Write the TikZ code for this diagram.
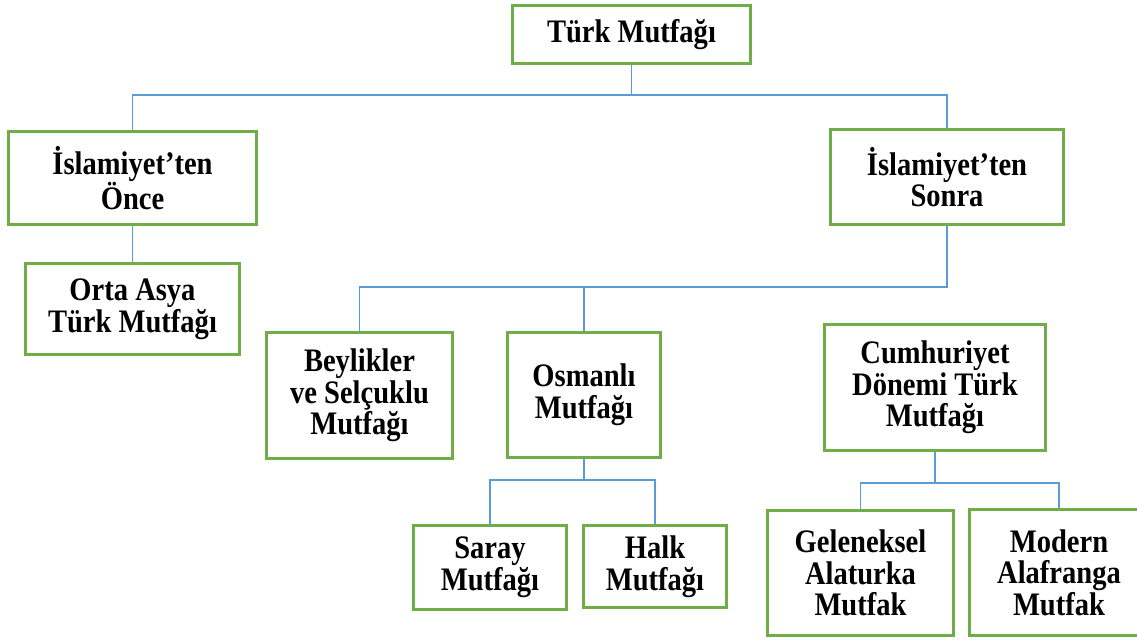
\documentclass[tikz,border=0pt]{standalone}
\usepackage{fontspec}
\setmainfont{Liberation Serif}[FakeStretch=0.87]
\usetikzlibrary{backgrounds}
\definecolor{kutuyesil}{HTML}{70AD47}
\definecolor{bagmavi}{HTML}{5B9BD5}
\def\px{0.03cm}
\tikzset{
	kutu/.style={draw=kutuyesil, line width=3*\px, fill=white, align=center, inner sep=0pt,
		font=\fontsize{28}{27}\selectfont\bfseries},
	bag/.style={draw=bagmavi, line width=1pt},
}

\begin{document}
\begin{tikzpicture}[x=\px, y=-\px]
			%%%%% START %%%%%
			
			\useasboundingbox (0, 0) rectangle (1137, 641);
			\clip (0, 0) rectangle (1137, 641);
			
			\node[kutu, minimum width=238*\px, minimum height=58*\px] (turk) at (631.5, 34.5) {Türk Mutfağı};
			
			\node[kutu, minimum width=248*\px, minimum height=93*\px] (once) at (132.5, 178) {İslamiyet’ten\\Önce};
			\node[kutu, minimum width=233*\px, minimum height=95*\px] (sonra) at (947, 177) {İslamiyet’ten\\Sonra};
			
			\node[kutu, minimum width=214*\px, minimum height=91*\px] (asya) at (132.5, 309) {Orta Asya\\Türk Mutfağı};
			
			\node[kutu, minimum width=186*\px, minimum height=126*\px] (beylik) at (359.5, 395.5) {Beylikler\\ve Selçuklu\\Mutfağı};
			\node[kutu, minimum width=153*\px, minimum height=125*\px] (osmanli) at (584, 395) {Osmanlı\\Mutfağı};
			\node[kutu, minimum width=221*\px, minimum height=126*\px] (cumhur) at (935, 387.5) {Cumhuriyet\\Dönemi Türk\\Mutfağı};
			
			\node[kutu, minimum width=153*\px, minimum height=84*\px] (saray) at (490, 567.5) {Saray\\Mutfağı};
			\node[kutu, minimum width=143*\px, minimum height=82*\px] (halk) at (655, 566.5) {Halk\\Mutfağı};
			
			\node[kutu, minimum width=186*\px, minimum height=125*\px] (gelenek) at (860.5, 573) {Geleneksel\\Alaturka\\Mutfak};
			\node[kutu, minimum width=179*\px, minimum height=126*\px] (modern) at (1059, 572.5) {Modern\\Alafranga\\Mutfak};
			
			\coordinate (bar1) at (0, 95);
			\coordinate (bar2) at (0, 287);
			\coordinate (bar3) at (0, 480);
			\coordinate (bar4) at (0, 483);
			
			\begin{scope}[on background layer]
				\draw[bag] (turk.south) -- (turk.south |- bar1);
				\draw[bag] (once.north) -- (once.north |- bar1) -- (sonra.north |- bar1) -- (sonra.north);
				\draw[bag] (once.south) -- (asya.north);
				
				\draw[bag] (sonra.south) -- (sonra.south |- bar2) -- (beylik.north |- bar2) -- (beylik.north);
				\draw[bag] (osmanli.north) -- (osmanli.north |- bar2);
				
				\draw[bag] (osmanli.south) -- (osmanli.south |- bar3);
				\draw[bag] (saray.north) -- (saray.north |- bar3) -- (halk.north |- bar3) -- (halk.north);
				
				\draw[bag] (cumhur.south) -- (cumhur.south |- bar4);
				\draw[bag] (gelenek.north) -- (gelenek.north |- bar4) -- (modern.north |- bar4) -- (modern.north);
			\end{scope}
			
			%%%%% END %%%%%
\end{tikzpicture}
\end{document}
